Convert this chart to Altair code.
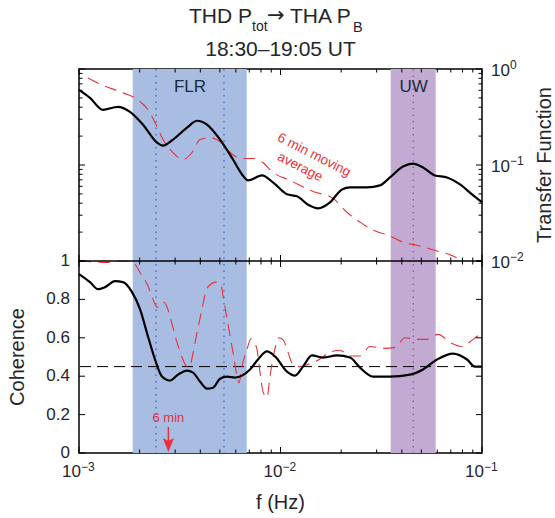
import altair as alt
import pandas as pd

# ---------------- data ----------------
# Transfer function (black, solid)
tf_f = [1.000e-3, 1.134e-3, 1.315e-3, 1.561e-3, 1.791e-3, 2.078e-3, 2.439e-3, 2.611e-3, 2.928e-3,
        3.436e-3, 3.852e-3, 4.317e-3, 5.009e-3, 5.811e-3, 6.442e-3, 6.898e-3, 8.093e-3, 9.181e-3,
        1.077e-2, 1.207e-2, 1.385e-2, 1.535e-2, 1.761e-2, 2.020e-2, 2.213e-2, 2.688e-2, 3.117e-2,
        3.494e-2, 4.055e-2, 4.546e-2, 5.095e-2, 5.846e-2, 6.705e-2, 7.779e-2, 8.922e-2, 1.000e-1]
tf_v = [0.606, 0.500, 0.376, 0.404, 0.358, 0.263, 0.171, 0.159, 0.184,
        0.245, 0.289, 0.263, 0.184, 0.114, 0.0797, 0.0691, 0.0778, 0.0659,
        0.0495, 0.0472, 0.0380, 0.0354, 0.0409, 0.0557, 0.0584, 0.0584, 0.0613,
        0.0742, 0.0965, 0.1036, 0.0942, 0.0778, 0.0742, 0.0628, 0.0495, 0.0409]

# Transfer function, 6 min moving average (red, dashed)
tfavg_f = [1.108e-3, 1.300e-3, 1.654e-3, 1.963e-3, 2.200e-3, 2.439e-3, 2.611e-3, 2.894e-3, 3.282e-3,
           3.638e-3, 3.986e-3, 4.468e-3, 5.009e-3, 5.615e-3, 6.442e-3, 7.303e-3, 8.189e-3, 9.181e-3,
           1.115e-2, 1.450e-2, 1.822e-2, 2.138e-2, 2.480e-2, 2.878e-2, 3.494e-2, 4.055e-2, 4.757e-2,
           5.981e-2, 7.181e-2, 7.958e-2]
tfavg_v = [0.807, 0.683, 0.564, 0.477, 0.376, 0.251, 0.184, 0.138, 0.114,
           0.135, 0.184, 0.193, 0.175, 0.135, 0.117, 0.117, 0.106, 0.0836,
           0.0691, 0.0531, 0.0449, 0.0322, 0.0254, 0.0210, 0.0182, 0.0157, 0.0146,
           0.0127, 0.0113, 0.0100]

# Coherence (black, solid)
coh_f = [1.000e-3, 1.134e-3, 1.242e-3, 1.346e-3, 1.509e-3, 1.654e-3, 1.833e-3, 2.008e-3, 2.200e-3,
         2.384e-3, 2.582e-3, 2.829e-3, 3.100e-3, 3.436e-3, 3.680e-3, 3.986e-3, 4.317e-3, 4.624e-3,
         5.009e-3, 5.427e-3, 5.947e-3, 6.442e-3, 7.058e-3, 7.733e-3, 8.570e-3, 9.391e-3, 1.077e-2,
         1.180e-2, 1.293e-2, 1.433e-2, 1.625e-2, 1.908e-2, 2.213e-2, 2.480e-2, 2.878e-2, 3.494e-2,
         4.393e-2, 5.095e-2, 5.981e-2, 7.181e-2, 8.426e-2, 9.233e-2, 1.000e-1]
coh_v = [0.932, 0.890, 0.853, 0.864, 0.895, 0.890, 0.838, 0.749, 0.607,
         0.487, 0.398, 0.377, 0.408, 0.429, 0.419, 0.372, 0.335, 0.340,
         0.387, 0.398, 0.393, 0.403, 0.435, 0.487, 0.529, 0.503, 0.424,
         0.403, 0.450, 0.508, 0.497, 0.508, 0.497, 0.445, 0.398, 0.398,
         0.408, 0.435, 0.487, 0.518, 0.487, 0.450, 0.450]

# Coherence, 6 min moving average (red, dashed)
cohavg_f = [1.000e-3, 1.228e-3, 1.377e-3, 1.598e-3, 1.791e-3, 1.896e-3, 2.008e-3, 2.200e-3, 2.329e-3,
            2.439e-3, 2.553e-3, 2.642e-3, 2.734e-3, 2.829e-3, 3.064e-3, 3.245e-3, 3.436e-3, 3.556e-3,
            3.680e-3, 3.852e-3, 4.078e-3, 4.268e-3, 4.520e-3, 4.785e-3, 5.067e-3, 5.184e-3, 5.489e-3,
            5.811e-3, 6.083e-3, 6.223e-3, 6.442e-3, 6.820e-3, 7.140e-3, 7.389e-3, 7.646e-3, 7.913e-3,
            8.189e-3, 8.570e-3, 8.870e-3, 9.284e-3, 9.831e-3, 1.029e-2, 1.090e-2, 1.153e-2, 1.250e-2,
            1.354e-2, 1.517e-2, 1.761e-2, 1.974e-2, 2.213e-2, 2.480e-2, 2.781e-2, 3.227e-2, 3.701e-2,
            4.149e-2, 4.757e-2, 5.333e-2, 6.049e-2, 6.938e-2, 7.958e-2, 9.024e-2, 1.000e-1]
cohavg_v = [1.0, 0.995, 0.993, 1.0, 0.998, 0.985, 0.94, 0.87, 0.80,
            0.76, 0.765, 0.785, 0.76, 0.71, 0.576, 0.50, 0.45, 0.455,
            0.52, 0.628, 0.749, 0.843, 0.88, 0.89, 0.875, 0.82, 0.67,
            0.524, 0.40, 0.365, 0.45, 0.54, 0.595, 0.575, 0.54, 0.42,
            0.32, 0.29, 0.40, 0.52, 0.60, 0.59, 0.524, 0.461, 0.45,
            0.46, 0.48, 0.525, 0.535, 0.505, 0.505, 0.555, 0.545, 0.55,
            0.60, 0.592, 0.592, 0.618, 0.576, 0.555, 0.592, 0.628]

# Frequency bands
band_name = ["FLR", "UW"]
band_lo = [1.847e-3, 3.523e-2]
band_hi = [6.798e-3, 5.891e-2]
band_mid = [3.556e-3, 4.58e-2]
band_fill = ["#a9bde3", "#c3aad2"]
dot_f = [2.411e-3, 5.243e-3, 4.561e-2]
dot_color = ["#3f6fc4", "#3f6fc4", "#9358a3"]

coh_threshold = [0.45]
six_min_f = [1.0 / 360.0]

# Tick / label values
x_major = [1e-3, 1e-2, 1e-1]
x_major_exp = ["\u22123", "\u22122", "\u22121"]
x_minor = [k * 1e-3 for k in range(2, 10)] + [k * 1e-2 for k in range(2, 10)]
tf_major = [1e-2, 1e-1, 1e0]
tf_major_exp = ["\u22122", "\u22121", "0"]
tf_minor = [k * 1e-2 for k in range(2, 10)] + [k * 1e-1 for k in range(2, 10)]
coh_ticks = [0, 0.2, 0.4, 0.6, 0.8, 1.0]
coh_labels = ["0", "0.2", "0.4", "0.6", "0.8", "1"]

# ---------------- styling ----------------
W, H = 403, 384
FONT = "Liberation Sans"
TXT = "#1f262c"
RED = "#e8313a"

xs = alt.Scale(type="log", domain=[1e-3, 1e-1], nice=False)
ys_c = alt.Scale(domain=[0, 2], nice=False, zero=False)
ys_t = alt.Scale(type="log", domain=[1e-4, 1], nice=False)


def X(field):
    return alt.X(f"{field}:Q", scale=xs, axis=None)


def YC(field):
    return alt.Y(f"{field}:Q", scale=ys_c, axis=None)


def YT(field):
    return alt.Y(f"{field}:Q", scale=ys_t, axis=None)


def df(**cols):
    return pd.DataFrame(cols)


def label(text, x, y, size, color=TXT, font=FONT, **kw):
    return alt.Chart(df(t=[text])).mark_text(
        fontSize=size, font=font, color=color, **kw
    ).encode(text="t:N", x=alt.value(x), y=alt.value(y))


bands = df(name=band_name, lo=band_lo, hi=band_hi, mid=band_mid, fill=band_fill)
band_rect = alt.Chart(bands).mark_rect(opacity=1).encode(
    x=X("lo"), x2="hi", color=alt.Color("fill:N", scale=None),
)
band_text = alt.Chart(bands).mark_text(fontSize=17, font=FONT, color="#1b2b40", baseline="middle").encode(
    x=X("mid"), y=alt.value(18), text="name:N"
)
dots = alt.Chart(df(f=dot_f, col=dot_color)).mark_rule(strokeDash=[1.5, 5], strokeWidth=1.4).encode(
    x=X("f"), color=alt.Color("col:N", scale=None),
)

# ---- inward ticks ----
xmaj = df(f=x_major)
xmin = df(f=x_minor)
tick_layers = []
for data, ln in [(xmaj, 6), (xmin, 3.5)]:
    for y0, sgn in [(0, 1), (H / 2, -1), (H / 2, 1), (H, -1)]:
        tick_layers.append(
            alt.Chart(data).mark_rule(color="black", strokeWidth=1).encode(
                x=X("f"), y=alt.value(y0), y2=alt.value(y0 + sgn * ln)
            )
        )
ctick = df(c=coh_ticks)
for x0, sgn in [(0, 1), (W, -1)]:
    tick_layers.append(
        alt.Chart(ctick).mark_rule(color="black", strokeWidth=1).encode(
            y=YC("c"), x=alt.value(x0), x2=alt.value(x0 + sgn * 6)
        )
    )
tf_tick_layers = []
for data, ln in [(df(v=tf_major), 6), (df(v=tf_minor), 3.5)]:
    for x0, sgn in [(0, 1), (W, -1)]:
        tf_tick_layers.append(
            alt.Chart(data).mark_rule(color="black", strokeWidth=1).encode(
                y=YT("v"), x=alt.value(x0), x2=alt.value(x0 + sgn * ln)
            )
        )

# ---- tick labels ----
xl = df(f=x_major, b=["10"] * 3, e=x_major_exp)
x_lab_base = alt.Chart(xl).mark_text(fontSize=17, font=FONT, color=TXT, align="right", baseline="middle", dx=2).encode(
    x=X("f"), y=alt.value(H + 19), text="b:N")
x_lab_exp = alt.Chart(xl).mark_text(fontSize=12, font=FONT, color=TXT, align="left", baseline="middle", dx=2).encode(
    x=X("f"), y=alt.value(H + 14), text="e:N")

cl = df(c=coh_ticks, t=coh_labels)
coh_lab = alt.Chart(cl).mark_text(fontSize=17, font=FONT, color=TXT, align="right", baseline="middle").encode(
    y=YC("c"), x=alt.value(-9), text="t:N")

tl = df(v=tf_major, b=["10"] * 3, e=tf_major_exp)
tf_lab_base = alt.Chart(tl).mark_text(fontSize=17, font=FONT, color=TXT, align="left", baseline="middle", dy=2).encode(
    y=YT("v"), x=alt.value(412), text="b:N")
tf_lab_exp = alt.Chart(tl).mark_text(fontSize=12, font=FONT, color=TXT, align="left", baseline="middle", dy=-4).encode(
    y=YT("v"), x=alt.value(431), text="e:N")

# ---- curves ----
coh_line = alt.Chart(df(f=coh_f, c=coh_v)).mark_line(color="black", strokeWidth=2.2, interpolate="monotone").encode(
    x=X("f"), y=YC("c"))
cohavg_line = alt.Chart(df(f=cohavg_f, c=cohavg_v)).mark_line(
    color=RED, strokeWidth=1.1, strokeDash=[12, 7], interpolate="monotone").encode(x=X("f"), y=YC("c"))
thr = alt.Chart(df(c=coh_threshold)).mark_rule(color="black", strokeWidth=1, strokeDash=[11, 6]).encode(y=YC("c"))
sep = alt.Chart(df(c=[1.0])).mark_rule(color="black", strokeWidth=1.5).encode(y=YC("c"))

tf_line = alt.Chart(df(f=tf_f, v=tf_v)).mark_line(color="black", strokeWidth=2.2, interpolate="monotone").encode(
    x=X("f"), y=YT("v"))
tfavg_line = alt.Chart(df(f=tfavg_f, v=tfavg_v)).mark_line(
    color=RED, strokeWidth=1.1, strokeDash=[12, 7], interpolate="monotone").encode(x=X("f"), y=YT("v"))

# ---- 6 min arrow ----
arrow_df = df(f=six_min_f, c0=[0.136], c1=[0.06], ch=[0.042], ct=[0.183], t=["6 min"])
arrow_shaft = alt.Chart(arrow_df).mark_rule(color=RED, strokeWidth=1.5).encode(x=X("f"), y=YC("c0"), y2="c1")
arrow_head = alt.Chart(arrow_df).mark_point(
    shape="M-0.8,-1L0,-0.55L0.8,-1L0,1Z", filled=True, color=RED, size=196, opacity=1).encode(x=X("f"), y=YC("ch"))
arrow_text = alt.Chart(arrow_df).mark_text(fontSize=13, font=FONT, color=RED, baseline="middle").encode(
    x=X("f"), y=YC("ct"), text="t:N")

# ---- annotations & titles ----
avg1 = label("6 min moving", 235, 86, 13.5, color=RED, angle=27, align="center", baseline="middle")
avg2 = label("average", 221, 98, 13.5, color=RED, angle=27, align="center", baseline="middle")

t1 = label("THD P", 110, -46, 21, align="left", baseline="alphabetic")
t2 = label("tot", 173, -38, 14, align="left", baseline="alphabetic")
t3 = label("\u2192", 188, -47, 21, font="DejaVu Sans", align="left", baseline="alphabetic")
t4 = label("THA P", 211, -46, 21, align="left", baseline="alphabetic")
t5 = label("B", 274, -37, 14.5, align="left", baseline="alphabetic")
t6 = label("18:30\u201319:05 UT", W / 2, -13, 21, align="center", baseline="alphabetic")

xtitle = label("f (Hz)", W / 2, 434, 20, align="center", baseline="middle")
ytitle_l = label("Coherence", -61, 288, 20, angle=270, align="center", baseline="middle")
ytitle_r = label("Transfer Function", 466, 96, 20, angle=270, align="center", baseline="middle")

coh_group = alt.layer(
    band_rect, dots, band_text, thr, cohavg_line, coh_line, sep,
    arrow_shaft, arrow_head, arrow_text,
    *tick_layers, coh_lab, x_lab_base, x_lab_exp,
    t1, t2, t3, t4, t5, t6, xtitle, ytitle_l, ytitle_r, avg1, avg2,
)
tf_group = alt.layer(tfavg_line, tf_line, *tf_tick_layers, tf_lab_base, tf_lab_exp)

chart = alt.layer(coh_group, tf_group).resolve_scale(y="independent").properties(
    width=W, height=H,
    autosize=alt.AutoSizeParams(type="none"),
    padding={"left": 79, "top": 69, "right": 73, "bottom": 65},
).configure_view(stroke="black", strokeWidth=1.5)

chart.save("out.html", embed_options={"renderer": "svg", "actions": False})
